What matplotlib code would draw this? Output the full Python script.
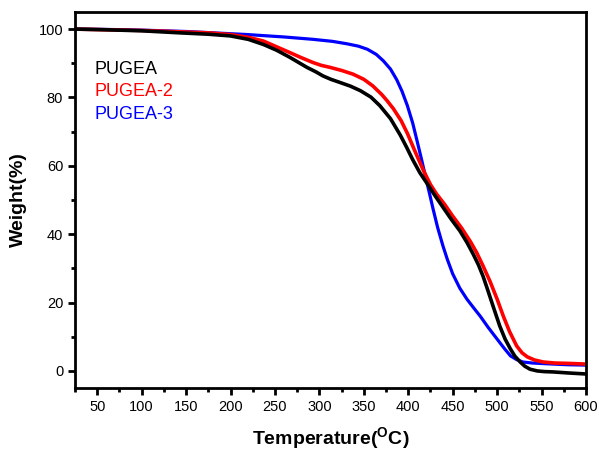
import matplotlib
matplotlib.use('Agg')
import matplotlib.pyplot as plt

plt.rcParams['font.family'] = ['Liberation Sans', 'DejaVu Sans']
plt.rcParams['mathtext.fontset'] = 'custom'
plt.rcParams['mathtext.rm'] = 'Liberation Sans:bold'

# TGA curves (temperature in C, weight in %)
t_pugea = [25, 60, 100, 143, 175, 200, 220, 237, 252, 267, 286, 296, 304, 313, 323, 335, 346,
           358, 368, 380, 391, 398, 405, 413, 421, 430, 439, 448, 458, 466, 473, 479, 484,
           489, 496, 503, 509, 515, 520, 526, 531, 537, 545, 553, 563, 580, 600]
w_pugea = [100, 99.8, 99.5, 98.9, 98.5, 98.0, 97.0, 95.5, 93.8, 91.7, 88.8, 87.5, 86.3, 85.3,
           84.4, 83.3, 82.0, 80.1, 77.6, 73.8, 69.0, 65.5, 61.8, 58.0, 54.9, 51.3, 47.9, 44.5,
           41.0, 37.6, 34.2, 31.0, 27.8, 24.0, 18.5, 13.1, 9.3, 6.4, 4.3, 2.6, 1.4, 0.5, 0.0,
           -0.2, -0.3, -0.6, -0.9]

t_pugea2 = [25, 60, 100, 143, 175, 200, 220, 237, 252, 267, 280, 293, 302, 312, 325, 338, 350,
            360, 370, 376, 383, 392, 399, 408, 417, 425, 432, 441, 450, 460, 470, 477, 484,
            492, 500, 507, 514, 522, 528, 534, 542, 552, 565, 580, 600]
w_pugea2 = [100, 99.8, 99.6, 99.2, 98.9, 98.4, 97.6, 96.5, 94.8, 93.1, 91.6, 90.2, 89.4, 88.8,
            87.9, 86.8, 85.3, 83.4, 80.9, 79.1, 76.8, 73.2, 69.5, 64.0, 58.7, 54.5, 51.7, 48.7,
            45.3, 41.8, 37.8, 34.6, 30.8, 26.2, 21.0, 16.0, 11.5, 7.3, 5.3, 4.1, 3.2, 2.6, 2.3,
            2.2, 2.0]

t_pugea3 = [25, 60, 100, 150, 219, 260, 293, 315, 331, 344, 354, 364, 372, 380, 387, 393, 399,
            405, 410, 415, 419, 424, 428, 433, 439, 444, 450, 458, 466, 474, 481, 490, 500, 508,
            515, 522, 529, 540, 563, 580, 600]
w_pugea3 = [100, 99.9, 99.7, 99.3, 98.4, 97.7, 97.0, 96.4, 95.7, 95.0, 94.1, 92.6, 90.7, 88.3,
            85.2, 81.8, 77.6, 72.5, 67.2, 61.8, 57.3, 51.8, 47.3, 42.0, 36.6, 32.6, 28.4, 24.2,
            21.0, 18.3, 16.0, 12.7, 9.3, 6.6, 4.4, 3.3, 2.6, 2.3, 2.0, 1.8, 1.7]

names = ['PUGEA', 'PUGEA-2', 'PUGEA-3']
colors = ['black', '#ff0000', '#0000ff']

fig = plt.figure(figsize=(5.99, 4.55), dpi=100)
ax = fig.add_axes([75 / 599, 1 - 388 / 455, 511 / 599, 376 / 455])

# blue first so black and red lie on top where they cross
kw = dict(solid_joinstyle='round', solid_capstyle='round')
ax.plot(t_pugea3, w_pugea3, color=colors[2], lw=2.3, **kw)
ax.plot(t_pugea2, w_pugea2, color=colors[1], lw=2.6, **kw)
ax.plot(t_pugea, w_pugea, color=colors[0], lw=2.6, **kw)

for i, (name, c) in enumerate(zip(names, colors)):
    ax.text(0.039, 0.848 - i * 0.06, name, color=c, fontsize=13,
            transform=ax.transAxes, va='center', ha='left')

ax.set_xlim(25, 600)
ax.set_ylim(-5, 105)
ax.set_xticks(range(50, 601, 50))
ax.set_xticks(range(25, 601, 25), minor=True)
ax.set_yticks(range(0, 101, 20))
ax.set_yticks(range(10, 101, 20), minor=True)

for s in ax.spines.values():
    s.set_linewidth(2)
ax.tick_params(which='both', direction='out', width=2, labelsize=10.5, top=False, right=False)
ax.tick_params(which='major', length=5)
ax.tick_params(which='minor', length=3)

ax.set_xlabel(r'Temperature($^\mathregular{O}$C)', fontsize=14, fontweight='bold', labelpad=8)
ax.set_ylabel('Weight(%)', fontsize=14, fontweight='bold', labelpad=8)

fig.savefig('out.png', dpi=100)
plt.close(fig)
